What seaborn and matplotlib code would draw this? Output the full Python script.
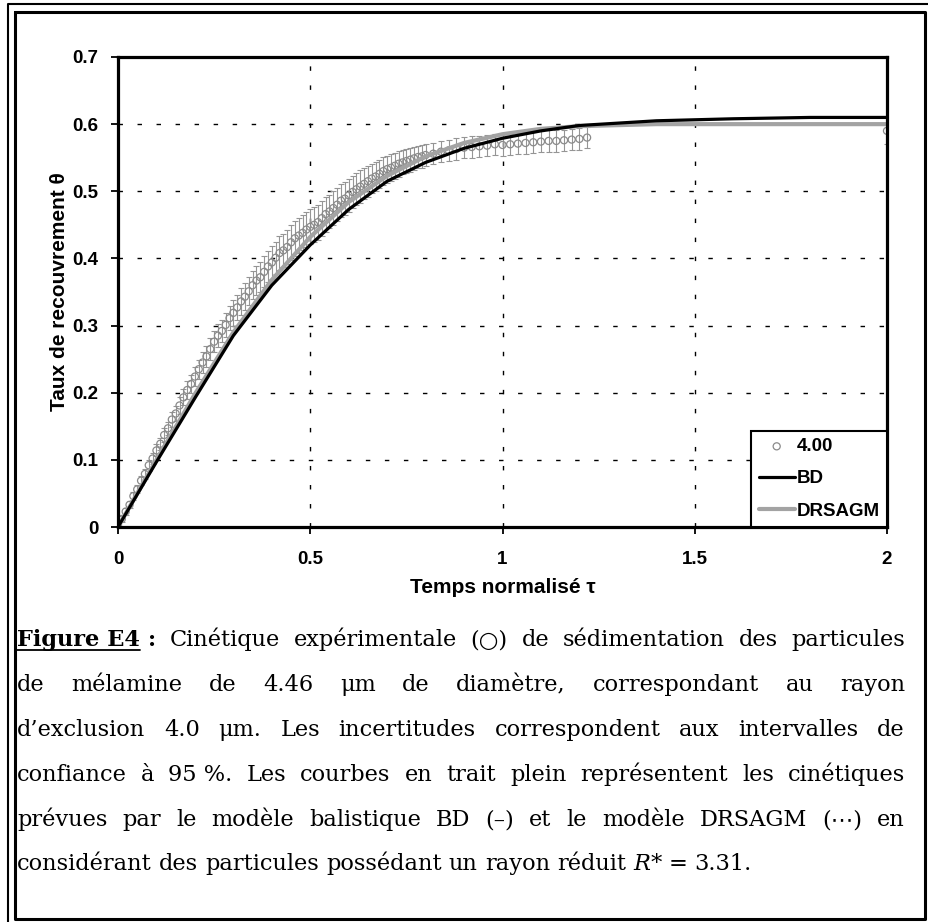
import numpy as np
import pandas as pd
import matplotlib
matplotlib.use("Agg")
import matplotlib.pyplot as plt
import seaborn as sns
from matplotlib.lines import Line2D
from matplotlib.font_manager import FontProperties
from matplotlib.transforms import IdentityTransform

# ---------------- data ----------------
tau_exp = [0.00, 0.01, 0.02, 0.03, 0.04, 0.05, 0.06, 0.07, 0.08, 0.09,
           0.10, 0.11, 0.12, 0.13, 0.14, 0.15, 0.16, 0.17, 0.18, 0.19,
           0.20, 0.21, 0.22, 0.23, 0.24, 0.25, 0.26, 0.27, 0.28, 0.29,
           0.30, 0.31, 0.32, 0.33, 0.34, 0.35, 0.36, 0.37, 0.38, 0.39,
           0.40, 0.41, 0.42, 0.43, 0.44, 0.45, 0.46, 0.47, 0.48, 0.49,
           0.50, 0.51, 0.52, 0.53, 0.54, 0.55, 0.56, 0.57, 0.58, 0.59,
           0.60, 0.61, 0.62, 0.63, 0.64, 0.65, 0.66, 0.67, 0.68, 0.69,
           0.70, 0.71, 0.72, 0.73, 0.74, 0.75, 0.76, 0.77, 0.78, 0.79, 0.80,
           0.82, 0.84, 0.86, 0.88, 0.90, 0.92, 0.94, 0.96, 0.98, 1.00,
           1.02, 1.04, 1.06, 1.08, 1.10, 1.12, 1.14, 1.16, 1.18, 1.20, 1.22,
           2.00]
theta_exp = [0.003, 0.012, 0.023, 0.033, 0.046, 0.056, 0.069, 0.079, 0.092, 0.102,
             0.114, 0.124, 0.137, 0.147, 0.160, 0.169, 0.181, 0.193, 0.204, 0.213,
             0.224, 0.235, 0.245, 0.254, 0.265, 0.276, 0.285, 0.292, 0.301, 0.311,
             0.319, 0.327, 0.336, 0.343, 0.351, 0.360, 0.367, 0.372, 0.380, 0.388,
             0.394, 0.401, 0.408, 0.412, 0.417, 0.424, 0.430, 0.434, 0.438, 0.443,
             0.447, 0.450, 0.454, 0.460, 0.466, 0.470, 0.475, 0.480, 0.486, 0.489,
             0.494, 0.499, 0.503, 0.507, 0.511, 0.515, 0.519, 0.522, 0.526, 0.530,
             0.533, 0.535, 0.538, 0.541, 0.543, 0.545, 0.547, 0.549, 0.551, 0.552, 0.554,
             0.556, 0.559, 0.561, 0.563, 0.565, 0.566, 0.567, 0.568, 0.570, 0.569,
             0.570, 0.571, 0.572, 0.573, 0.574, 0.575, 0.575, 0.576, 0.577, 0.578, 0.580,
             0.590]
err_exp = [0.004, 0.004, 0.005, 0.005, 0.006, 0.006, 0.007, 0.007, 0.008, 0.008,
           0.009, 0.009, 0.010, 0.010, 0.011, 0.011, 0.012, 0.012, 0.013, 0.013,
           0.014, 0.014, 0.015, 0.015, 0.016, 0.016, 0.017, 0.017, 0.018, 0.018,
           0.019, 0.019, 0.020, 0.020, 0.021, 0.021, 0.022, 0.022, 0.023, 0.023,
           0.024, 0.024, 0.025, 0.025, 0.025, 0.026, 0.026, 0.026, 0.026, 0.026,
           0.026, 0.026, 0.026, 0.026, 0.026, 0.025, 0.025, 0.025, 0.025, 0.025,
           0.025, 0.024, 0.024, 0.024, 0.023, 0.023, 0.022, 0.022, 0.021, 0.021,
           0.020, 0.020, 0.019, 0.019, 0.018, 0.018, 0.018, 0.017, 0.017, 0.017, 0.017,
           0.016, 0.016, 0.016, 0.016, 0.016, 0.016, 0.016, 0.016, 0.016, 0.016,
           0.016, 0.016, 0.016, 0.016, 0.016, 0.016, 0.016, 0.016, 0.016, 0.016, 0.016,
           0.020]

tau_model = [0.0, 0.1, 0.2, 0.3, 0.4, 0.5, 0.6, 0.7, 0.8, 0.9, 1.0, 1.1, 1.2, 1.4, 1.6, 1.8, 2.0]
theta_bd = [0.0, 0.097, 0.192, 0.285, 0.360, 0.420, 0.473, 0.515, 0.543, 0.564, 0.579, 0.590,
            0.598, 0.605, 0.608, 0.610, 0.610]
theta_drsagm = [0.0, 0.100, 0.198, 0.290, 0.368, 0.432, 0.484, 0.523, 0.552, 0.572, 0.585,
                0.593, 0.597, 0.600, 0.600, 0.600, 0.600]

series_labels = ["4.00", "BD", "DRSAGM"]
xticks = [0, 0.5, 1, 1.5, 2]
xticklabels = ["0", "0.5", "1", "1.5", "2"]
yticks = [0, 0.1, 0.2, 0.3, 0.4, 0.5, 0.6, 0.7]
yticklabels = ["0", "0.1", "0.2", "0.3", "0.4", "0.5", "0.6", "0.7"]
xlabel = "Temps normalisé τ"
ylabel = "Taux de recouvrement θ"

caption_lines = [
    [[("Figure E4", "bu"), (" :", "b")], [("Cinétique", "n")], [("expérimentale", "n")], [("(○)", "n")],
     [("de", "n")], [("sédimentation", "n")], [("des", "n")], [("particules", "n")]],
    [[("de", "n")], [("mélamine", "n")], [("de", "n")], [("4.46", "n")], [("μm", "n")], [("de", "n")],
     [("diamètre,", "n")], [("correspondant", "n")], [("au", "n")], [("rayon", "n")]],
    [[("d’exclusion", "n")], [("4.0", "n")], [("μm.", "n")], [("Les", "n")], [("incertitudes", "n")],
     [("correspondent", "n")], [("aux", "n")], [("intervalles", "n")], [("de", "n")]],
    [[("confiance", "n")], [("à", "n")], [("95\u00a0%.", "n")], [("Les", "n")], [("courbes", "n")],
     [("en", "n")], [("trait", "n")], [("plein", "n")], [("représentent", "n")], [("les", "n")],
     [("cinétiques", "n")]],
    [[("prévues", "n")], [("par", "n")], [("le", "n")], [("modèle", "n")], [("balistique", "n")],
     [("BD", "n")], [("(–)", "n")], [("et", "n")], [("le", "n")], [("modèle", "n")], [("DRSAGM", "n")],
     [("(⋯)", "n")], [("en", "n")]],
    [[("considérant", "n")], [("des", "n")], [("particules", "n")], [("possédant", "n")], [("un", "n")],
     [("rayon", "n")], [("réduit", "n")], [("R", "i"), ("*", "n")], [("=", "n")], [("3.31.", "n")]],
]
caption_justify = [True, True, True, True, True, False]

# ---------------- figure ----------------
sns.set_theme(style="white")
plt.rcParams["font.family"] = ["Liberation Sans", "DejaVu Sans"]
plt.rcParams["text.color"] = "black"

W, H = 929, 922
fig = plt.figure(figsize=(W / 100, H / 100), dpi=100)
fig.patch.set_facecolor("white")

ax_l, ax_r, ax_t, ax_b = 118, 887, 57, 527
ax = fig.add_axes([ax_l / W, 1 - ax_b / H, (ax_r - ax_l) / W, (ax_b - ax_t) / H])
ax.set_facecolor("white")

grey_pt = "#8a8a8a"
ax.errorbar(tau_exp, theta_exp, yerr=err_exp, fmt="none", ecolor="#959595",
            elinewidth=0.8, capsize=2.3, capthick=0.8, zorder=2)
sns.scatterplot(x=tau_exp, y=theta_exp, ax=ax, marker="o", s=26, color="white",
                edgecolor=grey_pt, linewidth=0.9, zorder=3, label=series_labels[0])
ax.collections[-1].set_facecolor("none")

sns.lineplot(x=tau_model, y=theta_drsagm, ax=ax, color="#a3a3a3", linewidth=3.0,
             sort=False, zorder=4, label=series_labels[2])
sns.lineplot(x=tau_model, y=theta_bd, ax=ax, color="black", linewidth=2.3,
             sort=False, zorder=5, label=series_labels[1])

ax.set_xlim(0, 2)
ax.set_ylim(0, 0.7)
ax.set_xticks(xticks)
ax.set_xticklabels(xticklabels)
ax.set_yticks(yticks)
ax.set_yticklabels(yticklabels)

tick_font = dict(family="Liberation Sans", weight="bold", size=13.5)
for lab in ax.get_xticklabels() + ax.get_yticklabels():
    lab.set_fontproperties(FontProperties(**tick_font))
    lab.set_color("black")

ax.tick_params(axis="both", which="major", bottom=True, left=True, direction="out",
               length=5, width=1.3, color="black")
ax.tick_params(axis="x", pad=12)
ax.tick_params(axis="y", pad=9)

ax.grid(True, color="black", linestyle=(0, (3.2, 10.5)), linewidth=1.0)
for sp in ax.spines.values():
    sp.set_color("black")
    sp.set_linewidth(2.3)
    sp.set_zorder(6)

ax.set_xlabel(xlabel, fontsize=15, fontweight="bold", color="black")
ax.set_ylabel(ylabel, fontsize=15, fontweight="bold", color="black")
ax.xaxis.set_label_coords(0.5, (ax_b - 578) / (ax_b - ax_t))
ax.yaxis.set_label_coords((69 - ax_l) / (ax_r - ax_l), 0.5)

handles, labels = ax.get_legend_handles_labels()
order = [labels.index(l) for l in series_labels]
leg = ax.legend([handles[i] for i in order], [labels[i] for i in order],
                loc="lower right", bbox_to_anchor=(1, 0), borderaxespad=0,
                frameon=True, fancybox=False, framealpha=1, edgecolor="black",
                prop=FontProperties(family="Liberation Sans", weight="bold", size=13.5),
                handlelength=1.9, handletextpad=0.1, labelspacing=0.8, borderpad=0.4)
leg.get_frame().set_linewidth(1.5)
leg.set_zorder(7)

# ---------------- border ----------------
def fx(x):
    return x / W

def fy(y):
    return 1 - y / H

fig.add_artist(Line2D([fx(15), fx(925), fx(925), fx(15), fx(15)],
                      [fy(12), fy(12), fy(919), fy(919), fy(12)],
                      transform=fig.transFigure, color="black", linewidth=2.2))
fig.add_artist(Line2D([fx(8), fx(8), fx(929)], [fy(922), fy(4), fy(4)],
                      transform=fig.transFigure, color="black", linewidth=1.5))

# ---------------- caption ----------------
cap_size = 16.2
serif = ["DejaVu Serif", "DejaVu Sans"]
fps = {
    "n": FontProperties(family=serif, size=cap_size),
    "b": FontProperties(family=serif, weight="bold", size=cap_size),
    "bu": FontProperties(family=serif, weight="bold", size=cap_size),
    "i": FontProperties(family=serif, style="italic", size=cap_size),
}
renderer = fig.canvas.get_renderer()
ident = IdentityTransform()


def measure(s, prop):
    t = fig.text(0, 0, s, fontproperties=prop, transform=ident)
    w = t.get_window_extent(renderer).width
    t.remove()
    return w


space_w = measure("a a", fps["n"]) - measure("aa", fps["n"])
X0, X1 = 17, 905
baselines = [646, 691, 736, 781, 826, 870]

for words, just, yb in zip(caption_lines, caption_justify, baselines):
    widths = [sum(measure(t, fps[s]) for t, s in w) for w in words]
    if just:
        gap = (X1 - X0 - sum(widths)) / (len(words) - 1)
    else:
        gap = space_w
    x = X0
    ypix = H - yb
    for w in words:
        for t, s in w:
            fig.text(x, ypix, t, fontproperties=fps[s], transform=ident,
                     ha="left", va="baseline", color="black")
            pw = measure(t, fps[s])
            if s == "bu":
                fig.add_artist(Line2D([x, x + pw], [ypix - 3.5, ypix - 3.5], transform=ident,
                                      color="black", linewidth=1.3))
            x += pw
        x += gap

fig.savefig("out.png", dpi=100, facecolor="white")
